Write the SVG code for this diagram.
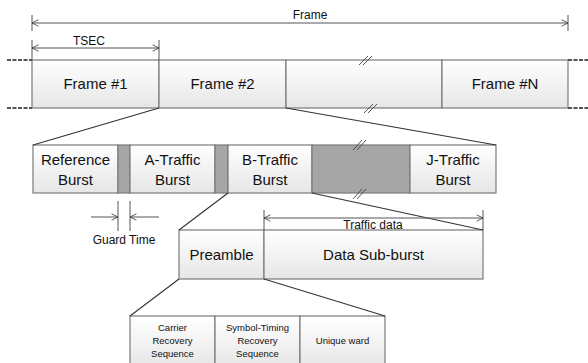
<svg xmlns="http://www.w3.org/2000/svg" width="588" height="363" viewBox="0 0 588 363">
<defs>
<linearGradient id="g" x1="0" y1="0" x2="0" y2="1">
<stop offset="0" stop-color="#ffffff"/>
<stop offset="1" stop-color="#e6e6e6"/>
</linearGradient>
<marker id="ah" viewBox="0 0 10 10" refX="9" refY="5" markerWidth="8" markerHeight="8" orient="auto-start-reverse" markerUnits="userSpaceOnUse">
<path d="M1,1 L9,5 L1,9" fill="none" stroke="#333" stroke-width="1"/>
</marker>
</defs>
<style>
.box{fill:url(#g);stroke:#7a7a7a;stroke-width:1.2}
.gray{fill:#a6a6a6;stroke:#7a7a7a;stroke-width:1.2}
.ln{stroke:#333;stroke-width:1.1;fill:none}
.tk{stroke:#555;stroke-width:1;fill:none}
.dash{stroke:#555;stroke-width:2;stroke-dasharray:4 1.5;fill:none}
.brk{stroke:#444;stroke-width:0.9;fill:none}
text{font-family:"Liberation Sans",Arial,sans-serif;fill:#111;text-anchor:middle}
.t14{font-size:15px}
.t12{font-size:12px}
.t9{font-size:9.5px}
</style>
<rect width="588" height="363" fill="#fff"/>

<g id="frame-row">
<g id="frame1"><rect class="box" x="32" y="60" width="127" height="48"/><text class="t14" x="95.5" y="89">Frame #1</text></g>
<g id="frame2"><rect class="box" x="159" y="60" width="127" height="48"/><text class="t14" x="222.5" y="89">Frame #2</text></g>
<g id="frame-gap"><rect class="box" x="286" y="60" width="156" height="48"/></g>
<g id="frameN"><rect class="box" x="442" y="60" width="126" height="48"/><text class="t14" x="505" y="89">Frame #N</text></g>
</g>

<g id="burst-row">
<g id="ref-burst"><rect class="box" x="33" y="145" width="85" height="48"/><text class="t14" x="75.5" y="165">Reference</text><text class="t14" x="75.5" y="185">Burst</text></g>
<g id="guard1"><rect class="gray" x="118" y="145" width="12" height="48"/></g>
<g id="a-burst"><rect class="box" x="130" y="145" width="85" height="48"/><text class="t14" x="172.5" y="165">A-Traffic</text><text class="t14" x="172.5" y="185">Burst</text></g>
<g id="guard2"><rect class="gray" x="215" y="145" width="13" height="48"/></g>
<g id="b-burst"><rect class="box" x="228" y="145" width="84" height="48"/><text class="t14" x="270" y="165">B-Traffic</text><text class="t14" x="270" y="185">Burst</text></g>
<g id="gap-burst"><rect class="gray" x="312" y="145" width="98" height="48"/></g>
<g id="j-burst"><rect class="box" x="410" y="145" width="86" height="48"/><text class="t14" x="453" y="165">J-Traffic</text><text class="t14" x="453" y="185">Burst</text></g>
</g>

<g id="sub-row">
<g id="preamble"><rect class="box" x="179" y="230" width="85" height="49"/><text class="t14" x="221.5" y="260">Preamble</text></g>
<g id="data-sub"><rect class="box" x="264" y="230" width="219" height="49"/><text class="t14" x="373.5" y="260">Data Sub-burst</text></g>
</g>

<g id="preamble-row">
<g id="carrier"><rect class="box" x="130" y="316" width="85" height="52"/><text class="t9" x="172.5" y="331">Carrier</text><text class="t9" x="172.5" y="344">Recovery</text><text class="t9" x="172.5" y="357">Sequence</text></g>
<g id="symbol"><rect class="box" x="215" y="316" width="85" height="52"/><text class="t9" x="257.5" y="331">Symbol-Timing</text><text class="t9" x="257.5" y="344">Recovery</text><text class="t9" x="257.5" y="357">Sequence</text></g>
<g id="unique"><rect class="box" x="300" y="316" width="85" height="52"/><text class="t9" x="342.5" y="344">Unique ward</text></g>
</g>

<g id="connectors">
<path class="dash" d="M7,60 H32 M7,108 H32 M568,60 H588 M568,108 H588"/>
<path class="ln" d="M159,108 L33,145 M286,108 L496,145"/>
<path class="ln" d="M228,193 L179,230 M312,193 L483,230"/>
<path class="ln" d="M179,279 L130,316 M264,279 L385,316"/>
<path class="tk" d="M32,15 V31 M568,15 V31"/>
<path class="tk" d="M32,40 V60 M159,40 V60"/>
<path class="tk" d="M118,201 V231 M130,201 V231"/>
<path class="tk" d="M264,210 V230 M483,210 V230"/>
<line class="tk" x1="32" y1="23" x2="568" y2="23" marker-start="url(#ah)" marker-end="url(#ah)"/>
<line class="tk" x1="32" y1="48" x2="159" y2="48" marker-start="url(#ah)" marker-end="url(#ah)"/>
<line class="tk" x1="264" y1="218" x2="483" y2="218" marker-start="url(#ah)" marker-end="url(#ah)"/>
<line class="tk" x1="91" y1="217" x2="118" y2="217" marker-end="url(#ah)"/>
<line class="tk" x1="159" y1="217" x2="130" y2="217" marker-end="url(#ah)"/>
<path class="brk" d="M359,65 L368,56 M363,65 L372,56 M364,113 L373,104 M368,113 L377,104 M353,150 L362,140 M357,150 L366,140 M353,199 L362,189 M357,199 L366,189"/>
</g>

<g id="labels">
<text class="t12" x="310" y="19">Frame</text>
<text class="t12" x="89" y="45">TSEC</text>
<text class="t12" x="124" y="244">Guard Time</text>
<text class="t12" x="373" y="229">Traffic data</text>
</g>
</svg>
